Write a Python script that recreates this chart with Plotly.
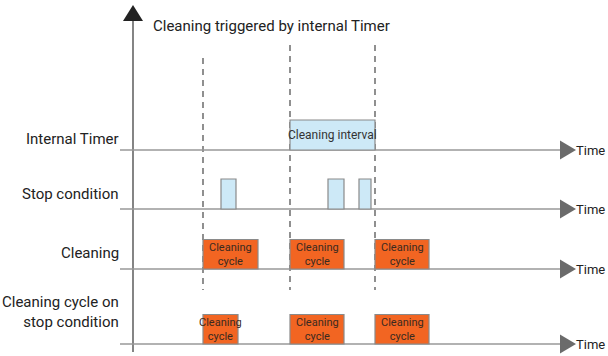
import plotly.graph_objects as go

# ---- data (diagram units: x = time position, y = row baseline, top-down) ----
row_labels = ["Internal Timer", "Stop condition", "Cleaning", "Cleaning cycle on<br>stop condition"]
row_base = [150, 209, 269, 344]
row_label_y = [139, 194, 253, 312]

trigger_times = [203, 290, 375]
dash_top = [58, 45, 45]

timer_start = [290]
timer_end = [375]
timer_text = ["Cleaning interval"]

stop_start = [221, 328, 359]
stop_end = [236, 344, 371]

cycle_start = [203, 290, 375]
cycle_end = [258, 344, 429]
stop_cycle_start = [203, 290, 375]
stop_cycle_end = [238, 344, 429]

title_text = "Cleaning triggered by internal Timer"
time_label = "Time"

FONT = "Roboto, Liberation Sans, Arial, sans-serif"
BLUE = "#cde9f7"
ORANGE = "#f26522"
EDGE = "#8a8a8a"

fig = go.Figure()
shapes = []
annotations = []

axis_x = 133
line_start = 120
line_end = 560

# vertical axis with arrow head
shapes.append(dict(type="line", x0=axis_x, x1=axis_x, y0=20, y1=352, line=dict(color="#333333", width=1.2)))
shapes.append(dict(type="path", path=f"M {axis_x-10},21 L {axis_x},5 L {axis_x+10},21 Z",
                   fillcolor="#222222", line=dict(width=0)))

# dashed trigger lines
for t, top in zip(trigger_times, dash_top):
    shapes.append(dict(type="line", x0=t, x1=t, y0=top, y1=290,
                       line=dict(color="#555555", width=1.3, dash="6px,5px")))

# row baselines with arrows and labels
for lab, yb, ly in zip(row_labels, row_base, row_label_y):
    shapes.append(dict(type="line", x0=line_start, x1=line_end, y0=yb, y1=yb,
                       line=dict(color="#999999", width=1.5)))
    shapes.append(dict(type="path", path=f"M {line_end},{yb-9.5} L {line_end+16},{yb} L {line_end},{yb+9.5} Z",
                       fillcolor="#6b6b6b", line=dict(width=0)))
    annotations.append(dict(x=line_end + 16, y=yb, text=time_label, showarrow=False, xanchor="left",
                            yanchor="middle", xshift=-2, font=dict(family=FONT, size=13, color="#222222")))
    annotations.append(dict(x=121, y=ly, text=lab, showarrow=False, xanchor="right", align="right",
                            yanchor="middle", font=dict(family=FONT, size=15, color="#222222")))

# timer interval
for s, e, txt in zip(timer_start, timer_end, timer_text):
    shapes.append(dict(type="rect", x0=s, x1=e, y0=120, y1=row_base[0], fillcolor=BLUE,
                       line=dict(color=EDGE, width=1.2), layer="above"))
    annotations.append(dict(x=(s + e) / 2, y=135, text=txt, showarrow=False,
                            font=dict(family=FONT, size=12, color="#333333")))

# stop pulses
for s, e in zip(stop_start, stop_end):
    shapes.append(dict(type="rect", x0=s, x1=e, y0=179, y1=row_base[1], fillcolor=BLUE,
                       line=dict(color=EDGE, width=1.2), layer="above"))

# cleaning cycles
for s, e in zip(cycle_start, cycle_end):
    shapes.append(dict(type="rect", x0=s, x1=e, y0=239.5, y1=row_base[2], fillcolor=ORANGE,
                       line=dict(color=EDGE, width=1.2), layer="above"))
    annotations.append(dict(x=(s + e) / 2, y=254, text="Cleaning<br>cycle", showarrow=False,
                            font=dict(family=FONT, size=11, color="#3a2a20")))

for s, e in zip(stop_cycle_start, stop_cycle_end):
    shapes.append(dict(type="rect", x0=s, x1=e, y0=314.5, y1=row_base[3], fillcolor=ORANGE,
                       line=dict(color=EDGE, width=1.2), layer="above"))
    annotations.append(dict(x=(s + e) / 2, y=329, text="Cleaning<br>cycle", showarrow=False,
                            font=dict(family=FONT, size=11, color="#3a2a20")))

annotations.append(dict(x=151, y=26, text=title_text, showarrow=False, xanchor="left", yanchor="middle",
                        font=dict(family=FONT, size=15, color="#222222")))

fig.update_layout(
    width=608, height=356,
    margin=dict(l=0, r=0, t=0, b=0),
    paper_bgcolor="white", plot_bgcolor="white",
    xaxis=dict(range=[0, 608], visible=False, fixedrange=True),
    yaxis=dict(range=[356, 0], visible=False, fixedrange=True),
    shapes=shapes, annotations=annotations, showlegend=False,
)

fig.write_html("out.html", config={"displayModeBar": False},
               post_script="document.body.style.margin='0';document.body.style.padding='0';")
